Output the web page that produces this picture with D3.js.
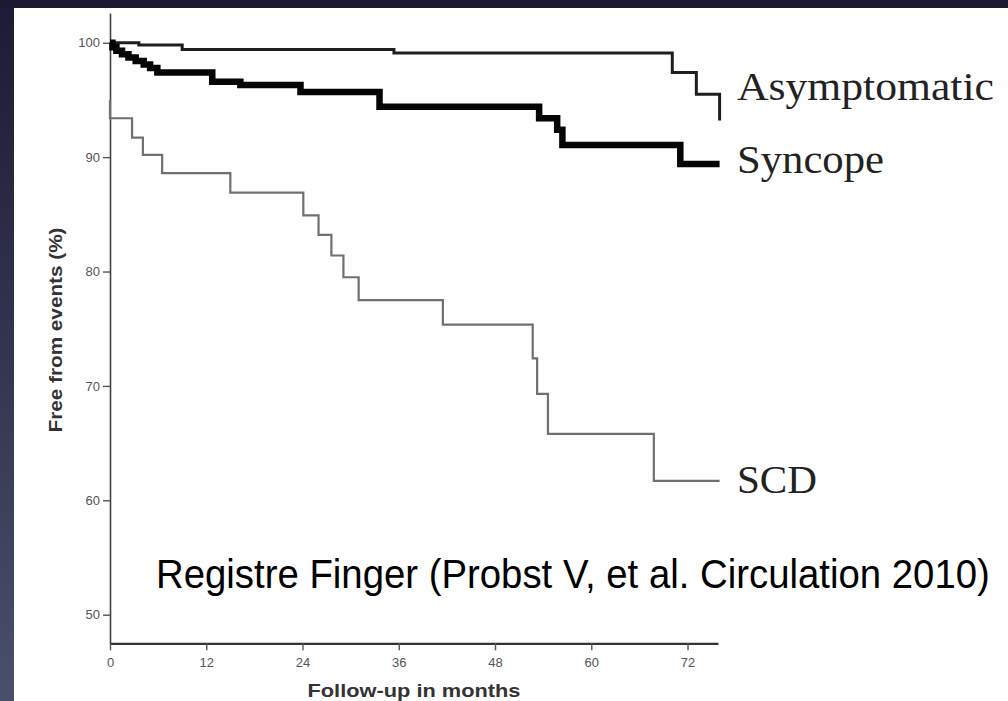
<!DOCTYPE html>
<html>
<head>
<meta charset="utf-8">
<script src="https://cdn.jsdelivr.net/npm/d3@7"></script>
<style>
  html, body { margin: 0; padding: 0; background: #1c1a33; }
  svg { display: block; }
</style>
</head>
<body>
<svg width="1008" height="701"></svg>
<script>
// follow-up months and % free from events
var asymMonths = [0, 3.6, 9, 35.4, 70.1, 73.1, 76];
var asymValues = [100, 99.8, 99.4, 99.1, 97.4, 95.5, 93.2];

var syncMonths = [0, 0.3, 0.8, 1.5, 2.3, 3.2, 4.2, 5.0, 5.9, 12.75, 16.25, 23.75, 33.6, 53.5, 55.75, 56.4, 71.1, 76];
var syncValues = [100, 99.6, 99.3, 99.0, 98.7, 98.4, 98.1, 97.8, 97.4, 96.6, 96.3, 95.7, 94.4, 93.4, 92.4, 91.05, 89.4, 89.4];

var scdMonths = [0, 0, 2.75, 4.1, 6.5, 15, 24.1, 26, 27.6, 29.1, 31, 41.5, 52.7, 53.25, 54.6, 67.8, 76];
var scdValues = [95.0, 93.4, 91.7, 90.2, 88.6, 86.9, 84.9, 83.2, 81.4, 79.5, 77.5, 75.35, 72.4, 69.3, 65.8, 61.7, 61.7];

var xTicks = [0, 12, 24, 36, 48, 60, 72];
var yTicks = [50, 60, 70, 80, 90, 100];

var svg = d3.select("svg");

// slide background: dark frame with a gradient on the left
var defs = svg.append("defs");
var grad = defs.append("linearGradient")
    .attr("id", "leftgrad")
    .attr("x1", 0).attr("y1", 0).attr("x2", 0).attr("y2", 1);
grad.append("stop").attr("offset", "0%").attr("stop-color", "#1d1b36");
grad.append("stop").attr("offset", "100%").attr("stop-color", "#4a4f6b");

svg.append("rect").attr("width", 1008).attr("height", 701).attr("fill", "#1c1a33");
svg.append("rect").attr("x", 0).attr("y", 8).attr("width", 14).attr("height", 693).attr("fill", "url(#leftgrad)");
svg.append("rect").attr("x", 14).attr("y", 8).attr("width", 994).attr("height", 693).attr("fill", "#fefefe");

var x = d3.scaleLinear().domain([0, 75.8]).range([110, 718]);
var y = d3.scaleLinear().domain([47.5, 102.6]).range([643.3, 13]);

var narrow = "'Liberation Sans Narrow', 'Arial Narrow', 'Liberation Sans', Arial, sans-serif";

// axes
var yAxis = svg.append("g")
    .attr("transform", "translate(" + x(0) + ",0)")
    .call(d3.axisLeft(y).tickValues(yTicks).tickSize(7).tickSizeOuter(0).tickPadding(3));
var xAxis = svg.append("g")
    .attr("transform", "translate(0," + y(47.5) + ")")
    .call(d3.axisBottom(x).tickValues(xTicks).tickSize(7).tickSizeOuter(0).tickPadding(7));

yAxis.select(".domain").attr("stroke", "#444").attr("stroke-width", 1.6);
xAxis.select(".domain").attr("stroke", "#333").attr("stroke-width", 2.2);
svg.selectAll(".tick line").attr("stroke", "#555").attr("stroke-width", 1.4);
svg.selectAll(".tick text")
    .attr("fill", "#555")
    .style("font-family", narrow)
    .style("font-size", "13px");

// curves
var line = d3.line()
    .x(function(d) { return x(d[0]); })
    .y(function(d) { return y(d[1]); })
    .curve(d3.curveStepAfter);

function pairs(months, values) {
    return months.map(function(m, i) { return [m, values[i]]; });
}

svg.append("path")
    .datum(pairs(scdMonths, scdValues))
    .attr("d", line)
    .attr("fill", "none")
    .attr("stroke", "#707070")
    .attr("stroke-width", 2.2);

svg.append("path")
    .datum(pairs(asymMonths, asymValues))
    .attr("d", line)
    .attr("fill", "none")
    .attr("stroke", "#1e1e1e")
    .attr("stroke-width", 3);

svg.append("path")
    .datum(pairs(syncMonths, syncValues))
    .attr("d", line)
    .attr("fill", "none")
    .attr("stroke", "#050505")
    .attr("stroke-width", 6.5);

// group labels at the curve ends
var groupLabels = [
    {text: "Asymptomatic", y: 100, w: 257},
    {text: "Syncope", y: 173, w: 147},
    {text: "SCD", y: 493, w: 80}
];
svg.selectAll(".glabel")
    .data(groupLabels)
    .enter().append("text")
    .attr("class", "glabel")
    .attr("x", 737)
    .attr("y", function(d) { return d.y; })
    .attr("textLength", function(d) { return d.w; })
    .attr("lengthAdjust", "spacingAndGlyphs")
    .style("font-family", "'Liberation Serif', 'Times New Roman', serif")
    .style("font-size", "41px")
    .attr("fill", "#222")
    .text(function(d) { return d.text; });

// axis titles
svg.append("text")
    .attr("x", 414)
    .attr("y", 697)
    .attr("text-anchor", "middle")
    .attr("textLength", 213)
    .attr("lengthAdjust", "spacingAndGlyphs")
    .style("font-family", narrow)
    .style("font-weight", "bold")
    .style("font-size", "19px")
    .attr("fill", "#333")
    .text("Follow-up in months");

svg.append("text")
    .attr("transform", "translate(62,330) rotate(-90)")
    .attr("text-anchor", "middle")
    .attr("textLength", 205)
    .attr("lengthAdjust", "spacingAndGlyphs")
    .style("font-family", narrow)
    .style("font-weight", "bold")
    .style("font-size", "19px")
    .attr("fill", "#333")
    .text("Free from events (%)");

// source caption, squeezed horizontally like the slide's condensed font
var caption = svg.append("text")
    .attr("x", 0)
    .attr("y", 0)
    .style("font-family", "'Liberation Sans', Arial, sans-serif")
    .style("font-size", "40px")
    .attr("fill", "#000")
    .text("Registre Finger (Probst V, et al. Circulation 2010)");
var natural = caption.node().getComputedTextLength();
caption.attr("transform", "translate(156,588) scale(" + (834 / natural) + ",1)");
</script>
</body>
</html>
